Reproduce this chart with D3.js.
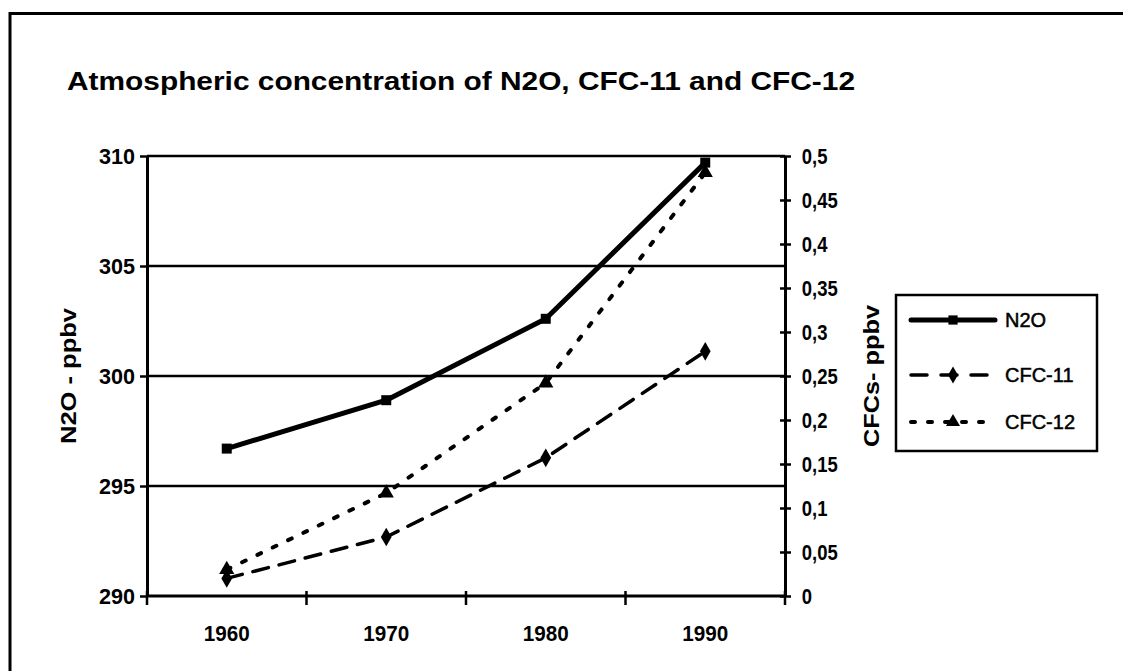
<!DOCTYPE html>
<html><head><meta charset="utf-8">
<script src="https://cdn.jsdelivr.net/npm/d3@7"></script>
<style>
body{margin:0;background:#fff;overflow:hidden;}
svg{display:block;}
text{fill:#000;}
</style></head>
<body>
<svg id="chart" width="1123" height="671"></svg>
<script>
const title = "Atmospheric concentration of N2O, CFC-11 and CFC-12";
const categories = ["1960","1970","1980","1990"];
const n2o   = [296.7, 298.9, 302.6, 309.7];
const cfc11 = [0.020, 0.067, 0.157, 0.278];
const cfc12 = [0.030, 0.117, 0.242, 0.481];
const leftTicks  = [290,295,300,305,310];
const rightTicks = [0,0.05,0.1,0.15,0.2,0.25,0.3,0.35,0.4,0.45,0.5];
const seriesNames = ["N2O","CFC-11","CFC-12"];
const leftTitle = "N2O - ppbv";
const rightTitle = "CFCs- ppbv";

const svg = d3.select("#chart");
const L = 147, R = 785, T = 156, B = 596;
const font = "'Liberation Sans', Arial, sans-serif";

// outer frame (top and left edges visible)
svg.append("path").attr("d","M10,671V13.5H1123").attr("fill","none")
  .attr("stroke","#000").attr("stroke-width",3);

svg.append("text").attr("x",67).attr("y",90).text(title)
  .attr("font-family",font).attr("font-weight","bold").attr("font-size",26)
  .attr("textLength",788).attr("lengthAdjust","spacingAndGlyphs");

const x = d3.scaleBand().domain(categories).range([L,R]);
const yL = d3.scaleLinear().domain([290,310]).range([B,T]);
const yR = d3.scaleLinear().domain([0,0.5]).range([B,T]);

// gridlines
svg.append("g").selectAll("line").data(leftTicks.slice(1)).join("line")
  .attr("x1",L).attr("x2",R).attr("y1",d=>yL(d)).attr("y2",d=>yL(d))
  .attr("stroke","#000").attr("stroke-width",2.5);

// left axis
const gL = svg.append("g").attr("transform",`translate(${L},0)`)
  .call(d3.axisLeft(yL).tickValues(leftTicks).tickSize(7).tickPadding(5).tickSizeOuter(0));
gL.selectAll("path.domain").attr("stroke-width",3);
gL.selectAll(".tick line").attr("stroke-width",2.5);
gL.selectAll(".tick text").attr("font-family",font).attr("font-weight","bold").attr("font-size",22)
  .attr("textLength",36).attr("lengthAdjust","spacingAndGlyphs");

// right axis
const fmt = d => String(+d.toFixed(2)).replace(".",",");
const gR = svg.append("g").attr("transform",`translate(${R},0)`)
  .call(d3.axisRight(yR).tickValues(rightTicks).tickSize(6).tickPadding(12).tickSizeOuter(0).tickFormat(fmt));
gR.selectAll("path.domain").attr("stroke-width",3);
gR.selectAll(".tick line").attr("x1",-5).attr("stroke-width",2.5);
gR.selectAll(".tick text").attr("font-family",font).attr("font-weight","bold").attr("font-size",22)
  .attr("x",20).attr("transform","scale(0.84,1)");

// bottom axis
const gB = svg.append("g").attr("transform",`translate(0,${B})`)
  .call(d3.axisBottom(x).tickSize(0).tickPadding(29));
gB.selectAll("path.domain").attr("stroke-width",3).attr("d",`M${L},0H${R}`);
gB.selectAll(".tick text").attr("font-family",font).attr("font-weight","bold").attr("font-size",22)
  .attr("textLength",46).attr("lengthAdjust","spacingAndGlyphs");
const bounds = categories.map(c=>x(c)).concat([x(categories[categories.length-1])+x.bandwidth()]);
gB.append("g").selectAll("line").data(bounds).join("line")
  .attr("x1",d=>d).attr("x2",d=>d).attr("y1",-5).attr("y2",9)
  .attr("stroke","#000").attr("stroke-width",2.5);

// axis titles
svg.append("text").attr("transform",`translate(76,${(T+B)/2}) rotate(-90)`)
  .attr("text-anchor","middle").text(leftTitle)
  .attr("font-family",font).attr("font-weight","bold").attr("font-size",22)
  .attr("textLength",136).attr("lengthAdjust","spacingAndGlyphs");
svg.append("text").attr("transform",`translate(879,${(T+B)/2}) rotate(-90)`)
  .attr("text-anchor","middle").text(rightTitle)
  .attr("font-family",font).attr("font-weight","bold").attr("font-size",22)
  .attr("textLength",142).attr("lengthAdjust","spacingAndGlyphs");

const cx = c => x(c) + x.bandwidth()/2;
const styles = [
  {data:n2o, y:yL, width:5, dash:null},
  {data:cfc11, y:yR, width:3.5, dash:"16,11"},
  {data:cfc12, y:yR, width:4, dash:"4,13"}
];
const lineGen = (ys) => d3.line().x((d,i)=>cx(categories[i])).y(d=>ys(d));
styles.forEach(s=>{
  svg.append("path").datum(s.data).attr("d",lineGen(s.y)).attr("fill","none")
    .attr("stroke","#000").attr("stroke-width",s.width)
    .attr("stroke-dasharray",s.dash).attr("stroke-linecap","round").attr("stroke-linejoin","round");
});
const sym = [d3.symbolSquare, d3.symbolDiamond, d3.symbolTriangle];
const symSize = [100, 100, 100];
styles.forEach((s,k)=>{
  svg.append("g").selectAll("path").data(s.data).join("path")
    .attr("transform",(d,i)=>`translate(${cx(categories[i])},${s.y(d)})`)
    .attr("d",d3.symbol(sym[k],symSize[k])).attr("fill","#000");
});

// legend
const lg = svg.append("g");
lg.append("rect").attr("x",896).attr("y",295).attr("width",201).attr("height",156)
  .attr("fill","#fff").attr("stroke","#000").attr("stroke-width",2.5);
const rowY = [320,375,422];
seriesNames.forEach((n,k)=>{
  const s = styles[k];
  lg.append("line").attr("x1",911).attr("x2",995).attr("y1",rowY[k]).attr("y2",rowY[k])
    .attr("stroke","#000").attr("stroke-width",s.width)
    .attr("stroke-dasharray",k===0?null:(k===1?"16,14":"4,13"))
    .attr("stroke-linecap","round");
  lg.append("path").attr("transform",`translate(953,${rowY[k]})`)
    .attr("d",d3.symbol(sym[k],85)).attr("fill","#000");
  lg.append("text").attr("x",1005).attr("y",rowY[k]+7).text(n)
    .attr("font-family",font).attr("font-size",20)
    .attr("stroke","#000").attr("stroke-width",0.5);
});
</script>
</body></html>
